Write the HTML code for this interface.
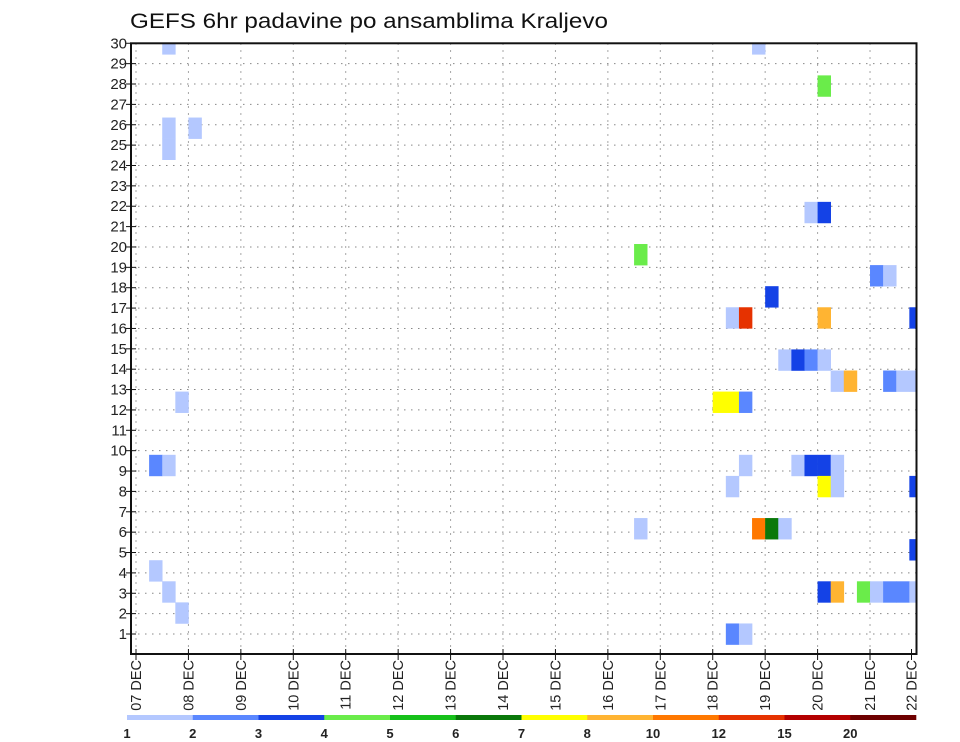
<!DOCTYPE html>
<html><head><meta charset="utf-8"><style>
html,body{margin:0;padding:0;background:#fff;}
svg{display:block;font-family:"Liberation Sans",sans-serif;}
</style></head><body>
<svg id="chart" width="960" height="742" viewBox="0 0 960 742" xmlns="http://www.w3.org/2000/svg">
<text x="130" y="28" font-size="21" textLength="478" lengthAdjust="spacingAndGlyphs" fill="#111">GEFS 6hr padavine po ansamblima Kraljevo</text>
<defs><clipPath id="plotclip"><rect x="131" y="43.3" width="785.5" height="610.7"/></clipPath></defs>
<g id="grid"></g>
<g id="cells" clip-path="url(#plotclip)"></g>
<g id="axes"></g>
<g id="colorbar"></g>
</svg>
<script>
const dayLabels = ["07 DEC","08 DEC","09 DEC","10 DEC","11 DEC","12 DEC","13 DEC","14 DEC","15 DEC","16 DEC","17 DEC","18 DEC","19 DEC","20 DEC","21 DEC","22 DEC"];
const memberTicks = [1,2,3,4,5,6,7,8,9,10,11,12,13,14,15,16,17,18,19,20,21,22,23,24,25,26,27,28,29,30];
const cellSteps =   [2,47,52,2,2,4,51,52,38,56,57,48,45,46,52,59,49,50,51,52,53,54,57,58,59,44,45,46,3,1,2,46,50,51,52,53,45,52,53,59,38,47,48,49,59,1,2,52,53,55,56,57,58,59,3,45,46];
const cellMembers = [29,29,27,25,24,25,21,21,19,18,18,17,16,16,16,16,14,14,14,14,13,13,13,13,13,12,12,12,12,9,9,9,9,9,9,9,8,8,8,8,6,6,6,6,5,4,3,3,3,3,3,3,3,3,2,1,1];
const cellValues =  [1.5,1.5,4.5,1.5,1.5,1.5,1.5,3.5,4.5,2.5,1.5,3.5,1.5,13,9,3.5,1.5,3.5,2.5,1.5,1.5,9,2.5,1.5,1.5,7.5,7.5,2.5,1.5,2.5,1.5,1.5,1.5,3.5,3.5,1.5,1.5,7.5,1.5,3.5,1.5,11,6.5,1.5,3.5,1.5,1.5,3.5,9,4.5,1.5,2.5,2.5,1.5,1.5,2.5,1.5];
const levels = [1,2,3,4,5,6,7,8,10,12,15,20];
const levelColors = ["#b4c8ff","#5a87ff","#1442e6","#6aec4a","#16c11a","#0a780a","#ffff00","#ffb432","#ff7800","#e63200","#b40000","#6e0000"];

const NS="http://www.w3.org/2000/svg";
const X0=136, DAYW=52.43, STEPW=DAYW/4;
const xDay=d=>X0+d*DAYW;
const xStep=k=>X0+k*STEPW;
const yTick=v=>634-(v-1)*20.37;
const MEMH=21.08;
const yMember=n=>634-(n-1)*MEMH;
const L=131,R=916.5,T=43.3,B=654;
function colorFor(v){let c=null;for(let i=0;i<levels.length;i++){if(v>=levels[i])c=levelColors[i];}return c;}
function mk(tag,attrs,parent){const e=document.createElementNS(NS,tag);for(const k in attrs)e.setAttribute(k,attrs[k]);parent.appendChild(e);return e;}

const grid=document.getElementById('grid');
memberTicks.forEach(v=>{
  const l=mk('line',{x1:L,x2:R,y1:yTick(v),y2:yTick(v),stroke:'#888','stroke-width':1,'stroke-dasharray':'1.5,5.5'},grid);
  
  
});
dayLabels.forEach((s,d)=>{
  const x=xDay(d); if(x>R) return;
  const l=mk('line',{x1:x,x2:x,y1:T,y2:B,stroke:'#888','stroke-width':1,'stroke-dasharray':'1.5,5.5'},grid);
  
  
});

const cells=document.getElementById('cells');
for(let i=0;i<cellSteps.length;i++){
  const r=mk('rect',{x:xStep(cellSteps[i]),y:yMember(cellMembers[i])-MEMH/2,width:STEPW+0.3,height:MEMH+0.3,fill:colorFor(cellValues[i])},cells);
  
  
}

const axes=document.getElementById('axes');
const fr=mk('rect',{x:L,y:T,width:R-L,height:B-T,fill:'none',stroke:'#111','stroke-width':2},axes);


memberTicks.forEach(v=>{
  const y=yTick(v);
  mk('line',{x1:L-5,x2:L+5,y1:y,y2:y,stroke:'#111','stroke-width':1},axes);
  const t=mk('text',{x:127,y:y+5,'font-size':15,'text-anchor':'end',fill:'#222'},axes);
  t.textContent=v;
  
  
});
dayLabels.forEach((s,d)=>{
  let x=xDay(d); if(x>R) x=R-5;
  mk('line',{x1:x,x2:x,y1:B-5,y2:B+6,stroke:'#111','stroke-width':1},axes);
  const t=mk('text',{x:0,y:0,'font-size':14.5,'text-anchor':'end',fill:'#222',transform:`translate(${x+5},${B+6}) rotate(-90)`},axes);
  t.textContent=s;
  
  
});

const cb=document.getElementById('colorbar');
const CB0=127,CBW=(916-127)/levels.length;
levels.forEach((lv,i)=>{
  const r=mk('rect',{x:CB0+i*CBW,y:715,width:CBW+0.3,height:5,fill:levelColors[i]},cb);
  
  
  const t=mk('text',{x:CB0+i*CBW,y:738,'font-size':13,'font-weight':'bold','text-anchor':'middle',fill:'#222'},cb);
  t.textContent=lv;
  
  
});
</script>
</body></html>
